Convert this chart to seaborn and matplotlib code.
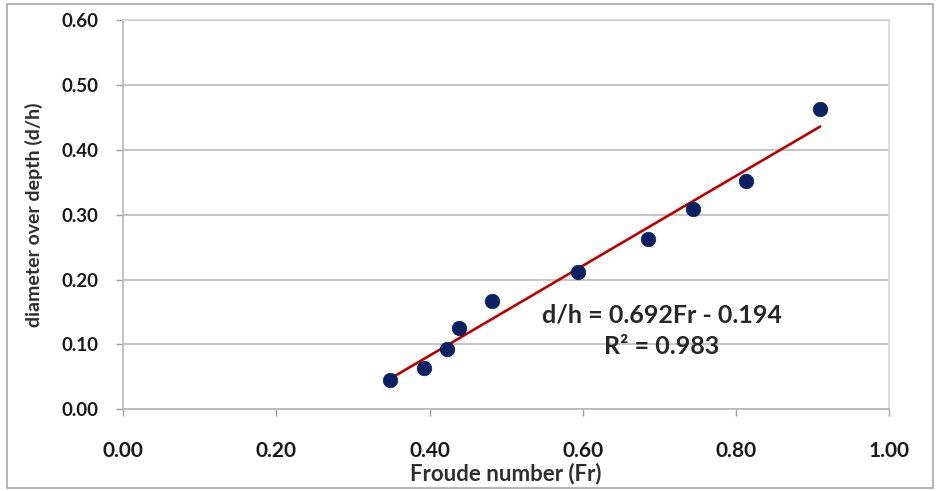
import matplotlib
matplotlib.use("Agg")
import matplotlib.pyplot as plt
import seaborn as sns
import numpy as np
import pandas as pd
from matplotlib.patches import Rectangle

# data
froude = [0.348, 0.393, 0.423, 0.438, 0.482, 0.594, 0.685, 0.744, 0.813, 0.910]
d_over_h = [0.045, 0.064, 0.093, 0.126, 0.167, 0.211, 0.262, 0.308, 0.352, 0.463]
slope = 0.692
intercept = -0.194
r2 = 0.983
x_ticks = [0.0, 0.2, 0.4, 0.6, 0.8, 1.0]
y_ticks = [0.0, 0.1, 0.2, 0.3, 0.4, 0.5, 0.6]

sns.set_theme(style="white")
plt.rcParams['font.family'] = ['Lato', 'DejaVu Sans']

df = pd.DataFrame({"Fr": froude, "dh": d_over_h})
fit_x = [min(froude), max(froude)]
fit_df = pd.DataFrame({"Fr": fit_x, "dh": [slope * v + intercept for v in fit_x]})

fig = plt.figure(figsize=(9.38, 4.91), dpi=100)
ax = fig.add_axes([0.1315, 0.1664, 0.9478 - 0.1315, 0.9593 - 0.1664])

ax.set_xlim(0, 1.0)
ax.set_ylim(0, 0.6)
ax.set_xticks(x_ticks)
ax.set_yticks(y_ticks)
ax.yaxis.grid(True, color="#c4c4c4", linewidth=1.4)
ax.xaxis.grid(False)
ax.set_axisbelow(True)

sns.lineplot(data=fit_df, x="Fr", y="dh", ax=ax, color="#c00000", linewidth=1.9, zorder=2)
sns.scatterplot(data=df, x="Fr", y="dh", ax=ax, s=110, color="#0b2161",
                edgecolor="#0b2161", linewidth=0.5, zorder=3)

ax.set_xticklabels([f"{v:.2f}" for v in x_ticks])
ax.set_yticklabels([f"{v:.2f}" for v in y_ticks])
ax.tick_params(axis="x", direction="out", length=5, width=1, color="#a0a0a0",
               pad=18, labelsize=15, labelcolor="#1a1a1a")
ax.tick_params(axis="y", direction="out", length=5, width=1, color="#a0a0a0",
               pad=13, labelsize=13.5, labelcolor="#1a1a1a")
for lbl in ax.get_xticklabels() + ax.get_yticklabels():
    lbl.set_fontweight("bold")
ax.tick_params(bottom=True, left=True)

for side, sp in ax.spines.items():
    sp.set_visible(True)
    sp.set_color("#b8b8b8" if side in ("left", "bottom") else "#d6d6d6")
    sp.set_linewidth(1.2)

ax.set_xlabel("Froude number (Fr)", fontsize=16, fontweight="bold", color="#2e2e2e", labelpad=1)
ax.set_ylabel("diameter over depth (d/h)", fontsize=14, fontweight="bold", color="#2e2e2e", labelpad=13)

ax.text(0.7035, 0.1453, f"d/h = {slope:.3f}Fr - {abs(intercept):.3f}", ha="center", va="center",
        fontsize=18, fontweight="bold", color="#262626")
ax.text(0.7035, 0.0968, f"R² = {r2:.3f}", ha="center", va="center",
        fontsize=18, fontweight="bold", color="#262626")

fig.patches.append(Rectangle((7 / 938, 3 / 491), 926 / 938, 484 / 491, transform=fig.transFigure,
                             fill=False, edgecolor="#a8a8a8", linewidth=1.2))

fig.savefig("out.png", dpi=100)
